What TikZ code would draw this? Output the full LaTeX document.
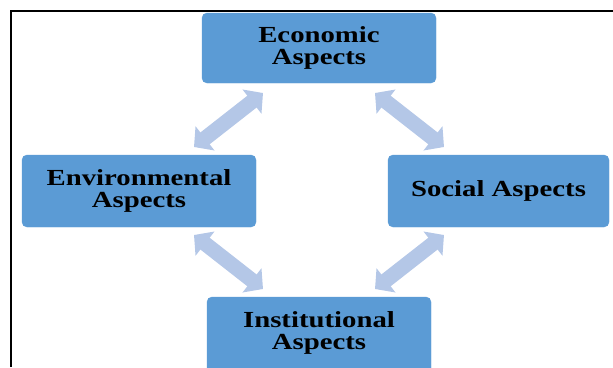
\documentclass[tikz,border=0pt]{standalone}
\usepackage{fontspec}
\newfontfamily\boxfont[FakeStretch=1.25]{Liberation Serif}
\usetikzlibrary{arrows.meta}
\definecolor{boxblue}{HTML}{5B9BD5}
\definecolor{arrowblue}{HTML}{B4C7E7}
\tikzset{
  boxtext/.style={align=center, inner sep=0pt, font=\boxfont\bfseries\fontsize{23}{22.5}\selectfont},
  aspectbox/.style={boxtext, rectangle, rounded corners=5pt, fill=boxblue, draw=boxblue},
  blockarrow/.style={draw=arrowblue, line width=15pt,
    {Triangle[width=30pt,length=14pt]}-{Triangle[width=30pt,length=14pt]}}
}
\begin{document}
\begin{tikzpicture}[x=1pt,y=-1pt]
\useasboundingbox (0,0) rectangle (613,367);
\clip (0,0) rectangle (613,367);
\draw[line width=2pt] (11,367) -- (11,11) -- (613,11);
\node[aspectbox, minimum width=234pt, minimum height=70pt] (econ) at (319,48) {Economic\\Aspects};
\node[aspectbox, minimum width=234pt, minimum height=72pt] (env) at (139,191) {Environmental\\Aspects};
\node[aspectbox, minimum width=221pt, minimum height=72pt] (soc) at (498.5,191) {Social Aspects};
\node[aspectbox, minimum width=224pt, minimum height=80pt] (inst) at (319,337) {};
\node[boxtext] (insttext) at (319,333) {Institutional\\Aspects};
\coordinate (a1s) at (194,147);
\coordinate (a1e) at (263,93);
\coordinate (a2s) at (375,93);
\coordinate (a2e) at (444,147);
\coordinate (a3s) at (194,235);
\coordinate (a3e) at (263,289);
\coordinate (a4s) at (444,235);
\coordinate (a4e) at (375,289);
\draw[blockarrow] (a1s) -- (a1e);
\draw[blockarrow] (a2s) -- (a2e);
\draw[blockarrow] (a3s) -- (a3e);
\draw[blockarrow] (a4s) -- (a4e);
\end{tikzpicture}
\end{document}
